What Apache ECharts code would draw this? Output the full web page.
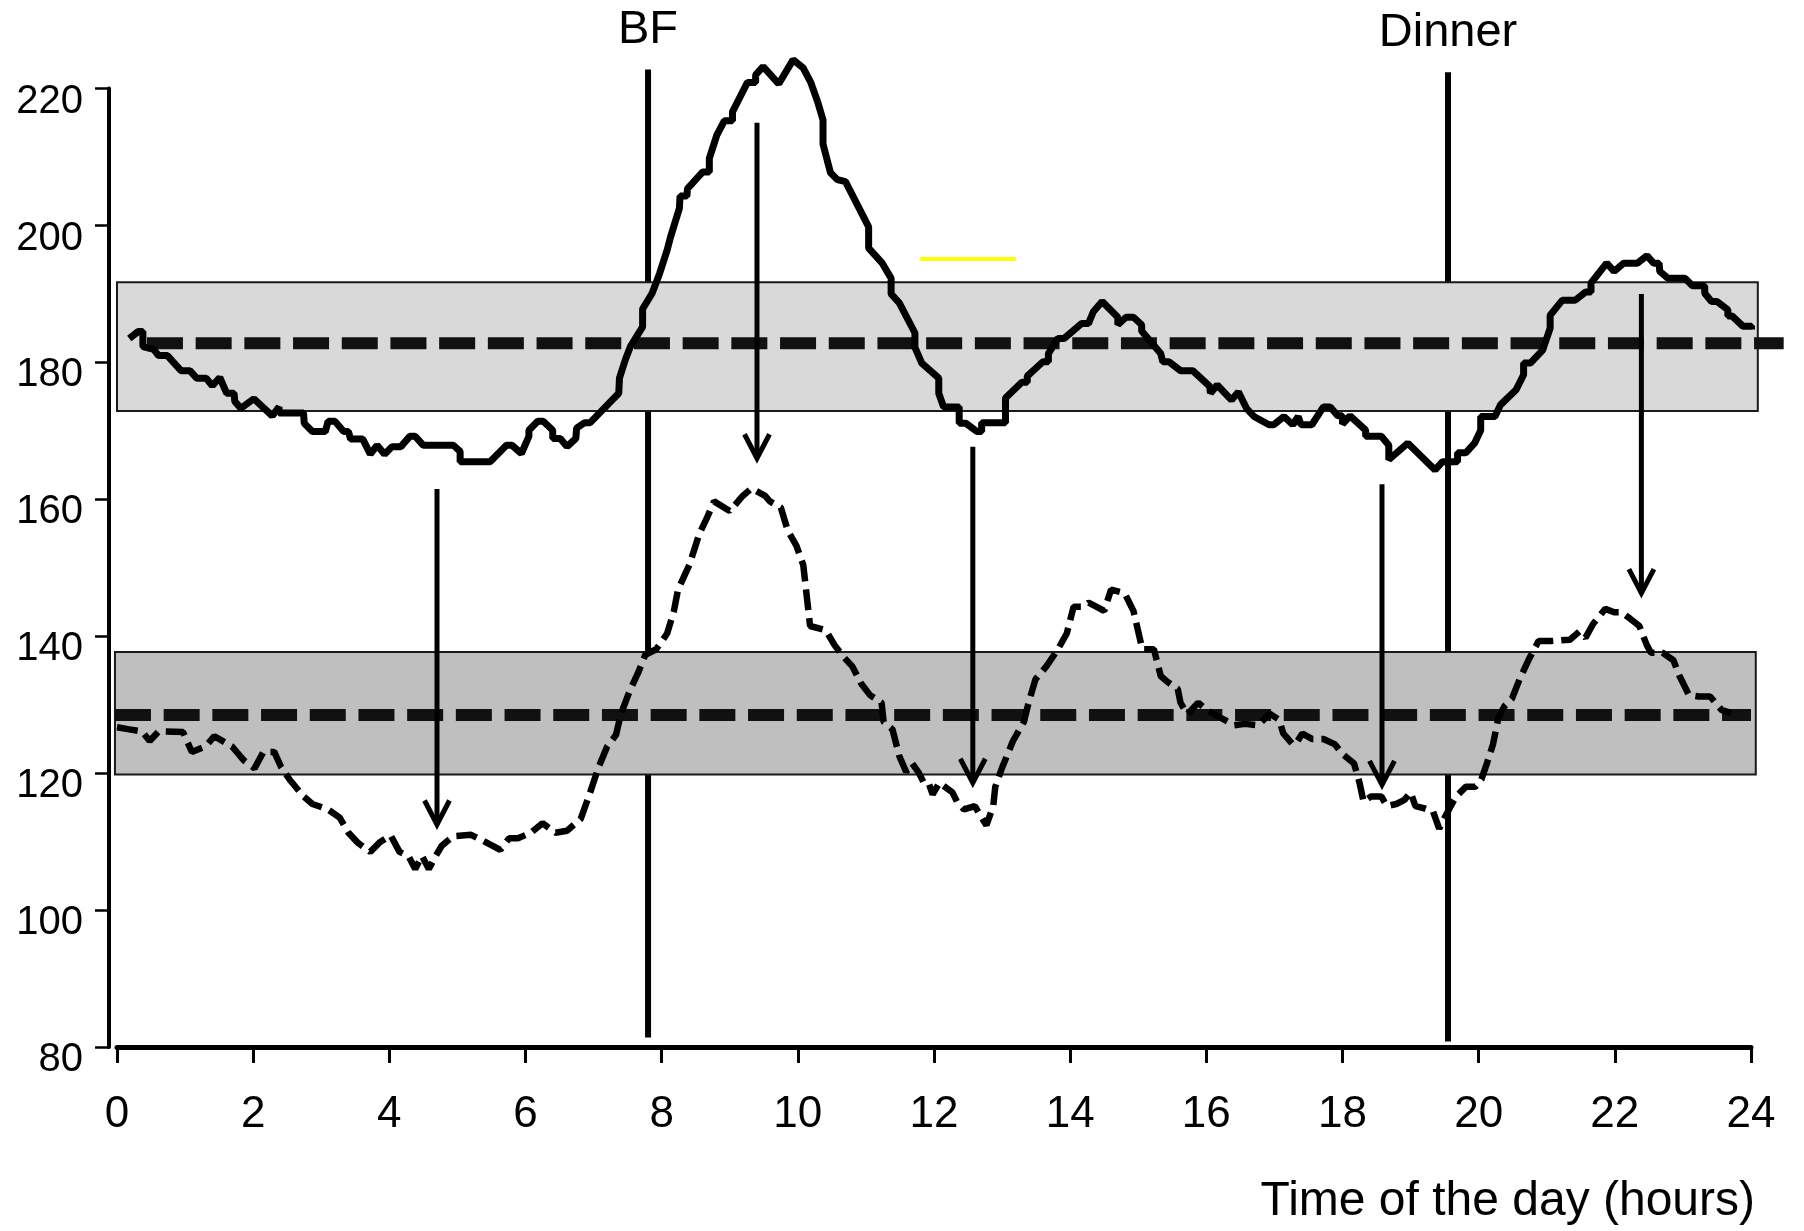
<!DOCTYPE html>
<html>
<head>
<meta charset="utf-8">
<title>Glucose over the day</title>
<script src="https://cdn.jsdelivr.net/npm/echarts@6/dist/echarts.min.js"></script>
<style>
    html, body { margin: 0; padding: 0; background: #fff; }
    #chart { width: 1804px; height: 1231px; }
</style>
</head>
<body>
<div id="chart"></div>
<script>
// axis ticks
var hourTicks = [0, 2, 4, 6, 8, 10, 12, 14, 16, 18, 20, 22, 24];
var glucoseTicks = [80, 100, 120, 140, 160, 180, 200, 220];

// upper profile (solid line)
var upperHours = [0.18, 0.31, 0.38, 0.38, 0.54, 0.61, 0.74, 0.94, 1.07, 1.17, 1.31, 1.40, 1.51, 1.61, 1.72, 1.73, 1.82, 2.01, 2.28, 2.38,
    2.38, 2.74, 2.75, 2.87, 3.06, 3.10, 3.20, 3.33, 3.40, 3.43, 3.61, 3.72, 3.82, 3.93, 4.04, 4.17, 4.30, 4.38, 4.50, 4.94,
    5.04, 5.04, 5.48, 5.72, 5.80, 5.94, 6.05, 6.05, 6.18, 6.26, 6.40, 6.40, 6.51, 6.61, 6.74, 6.75, 6.87, 6.95, 7.37, 7.38,
    7.47, 7.54, 7.72, 7.72, 7.86, 7.97, 8.08, 8.13, 8.26, 8.27, 8.37, 8.38, 8.60, 8.70, 8.70, 8.81, 8.92, 9.04, 9.04, 9.26,
    9.38, 9.38, 9.49, 9.72, 9.93, 10.08, 10.19, 10.29, 10.37, 10.37, 10.48, 10.58, 10.70, 11.04, 11.04, 11.24, 11.37, 11.37, 11.49, 11.72,
    11.72, 11.82, 12.07, 12.07, 12.14, 12.37, 12.37, 12.47, 12.63, 12.70, 12.70, 13.05, 13.05, 13.29, 13.37, 13.37, 13.60, 13.68, 13.68, 13.82,
    13.91, 14.17, 14.27, 14.34, 14.47, 14.70, 14.70, 14.82, 14.93, 15.05, 15.05, 15.33, 15.36, 15.45, 15.62, 15.80, 16.05, 16.06, 16.16, 16.37,
    16.47, 16.59, 16.70, 16.92, 16.99, 17.14, 17.27, 17.35, 17.39, 17.55, 17.72, 17.82, 17.93, 18.00, 18.00, 18.11, 18.34, 18.34, 18.57, 18.68,
    18.68, 18.96, 19.36, 19.47, 19.69, 19.69, 19.81, 19.94, 20.03, 20.03, 20.24, 20.32, 20.55, 20.66, 20.66, 20.76, 20.94, 21.05, 21.05, 21.23,
    21.42, 21.57, 21.65, 21.65, 21.88, 21.99, 22.13, 22.33, 22.47, 22.57, 22.65, 22.66, 22.78, 23.03, 23.14, 23.32, 23.32, 23.42, 23.50, 23.66,
    23.66, 23.72, 23.88, 24.01, 24.01];
var upperValues = [183.5, 184.5, 184.5, 182.3, 181.9, 181.0, 181.0, 178.8, 178.8, 177.7, 177.7, 176.6, 177.8, 175.5, 175.5, 174.3, 173.3, 174.7, 172.2, 173.5,
    172.6, 172.6, 171.1, 169.9, 169.9, 171.4, 171.4, 169.9, 169.9, 168.8, 168.8, 166.6, 167.9, 166.6, 167.7, 167.7, 169.2, 169.2, 167.9, 167.9,
    167.0, 165.5, 165.5, 167.9, 167.9, 166.7, 169.2, 170.1, 171.4, 171.4, 170.1, 168.9, 168.9, 167.7, 168.9, 170.4, 171.2, 171.2, 175.5, 177.7,
    180.5, 182.3, 185.2, 187.8, 190.1, 193.0, 196.4, 198.3, 202.5, 204.3, 204.3, 205.4, 207.8, 207.8, 209.8, 213.2, 215.3, 215.3, 216.6, 220.9,
    220.9, 222.0, 223.2, 220.7, 224.2, 223.0, 220.9, 218.1, 215.4, 211.9, 207.7, 206.7, 206.4, 199.8, 196.7, 194.5, 192.3, 190.0, 188.7, 184.3,
    182.2, 179.9, 177.7, 175.5, 173.5, 173.5, 171.1, 171.1, 169.9, 169.9, 171.2, 171.2, 174.8, 177.1, 177.1, 178.0, 180.1, 180.1, 181.3, 183.5,
    183.5, 185.7, 185.7, 187.4, 188.9, 186.6, 185.5, 186.6, 186.6, 185.5, 184.6, 181.3, 180.1, 180.1, 178.8, 178.8, 176.5, 175.5, 176.7, 174.5,
    175.7, 173.3, 172.1, 170.9, 170.9, 172.1, 170.9, 172.1, 170.9, 170.9, 173.5, 173.5, 172.2, 172.2, 171.0, 172.2, 170.1, 169.2, 169.2, 167.9,
    165.8, 168.2, 164.3, 165.5, 165.5, 166.8, 166.8, 168.2, 170.1, 172.1, 172.1, 173.8, 176.0, 178.2, 179.9, 179.9, 181.8, 185.0, 186.9, 189.1,
    189.1, 190.3, 190.3, 191.6, 194.5, 193.3, 194.5, 194.5, 195.6, 194.5, 194.5, 193.3, 192.3, 192.3, 191.2, 191.2, 190.1, 188.9, 188.9, 187.7,
    186.8, 186.8, 185.3, 185.3, 184.8];

// lower profile (dashed line)
var lowerHours = [0.00, 0.18, 0.37, 0.48, 0.61, 0.97, 1.10, 1.30, 1.43, 1.69, 1.86, 2.02, 2.15, 2.31, 2.41, 2.54, 2.74, 2.87, 3.10, 3.27,
    3.40, 3.53, 3.72, 3.86, 4.02, 4.15, 4.28, 4.38, 4.48, 4.58, 4.68, 4.77, 4.94, 5.20, 5.36, 5.63, 5.76, 5.89, 6.08, 6.25,
    6.44, 6.61, 6.81, 6.94, 7.07, 7.20, 7.33, 7.40, 7.53, 7.66, 7.76, 7.92, 8.08, 8.18, 8.24, 8.41, 8.55, 8.67, 8.77, 9.00,
    9.19, 9.32, 9.52, 9.59, 9.75, 9.85, 9.98, 10.08, 10.18, 10.41, 10.54, 10.67, 10.80, 10.93, 11.06, 11.23, 11.26, 11.39, 11.49, 11.59,
    11.68, 11.78, 11.85, 11.92, 11.98, 12.08, 12.27, 12.34, 12.44, 12.60, 12.70, 12.77, 12.87, 12.90, 13.00, 13.16, 13.32, 13.39, 13.49, 13.65,
    13.82, 13.95, 14.05, 14.18, 14.27, 14.39, 14.50, 14.60, 14.80, 14.93, 15.06, 15.23, 15.33, 15.42, 15.58, 15.62, 15.72, 15.88, 16.01, 16.21,
    16.41, 16.57, 16.76, 16.93, 17.07, 17.13, 17.27, 17.32, 17.41, 17.55, 17.72, 17.89, 18.00, 18.17, 18.25, 18.31, 18.42, 18.57, 18.65, 18.79,
    18.91, 19.00, 19.07, 19.19, 19.33, 19.42, 19.50, 19.59, 19.67, 19.81, 19.95, 20.04, 20.12, 20.21, 20.29, 20.38, 20.49, 20.60, 20.74, 20.88,
    21.06, 21.34, 21.48, 21.57, 21.68, 21.86, 21.99, 22.10, 22.22, 22.36, 22.47, 22.53, 22.70, 22.86, 22.95, 23.09, 23.23, 23.40, 23.57, 23.71];
var lowerValues = [126.7, 126.4, 126.1, 124.7, 126.1, 126.0, 123.1, 123.9, 125.4, 123.9, 121.9, 120.7, 123.1, 123.1, 120.9, 119.0, 116.6, 115.5, 114.7, 113.5,
    111.3, 109.9, 108.5, 109.9, 110.9, 108.5, 107.9, 106.0, 107.9, 106.0, 107.9, 109.4, 110.8, 111.0, 110.2, 108.8, 110.5, 110.5, 111.3, 112.7,
    111.3, 111.6, 113.3, 116.9, 120.8, 123.9, 125.6, 128.6, 132.0, 134.8, 137.3, 138.1, 140.4, 143.7, 146.8, 150.5, 154.9, 157.4, 159.7, 158.3,
    160.5, 161.6, 160.5, 159.7, 158.8, 155.5, 153.2, 150.4, 141.5, 140.9, 138.7, 137.0, 135.6, 133.1, 131.4, 130.3, 127.5, 126.4, 122.5, 120.2,
    121.4, 120.0, 118.6, 118.6, 116.9, 118.6, 117.2, 115.8, 114.7, 115.2, 113.5, 112.4, 115.2, 118.0, 120.8, 124.7, 127.5, 130.3, 133.7, 135.6,
    138.1, 140.4, 144.3, 144.3, 144.9, 144.3, 143.7, 146.8, 146.3, 143.7, 138.1, 138.1, 134.2, 133.4, 132.3, 130.3, 128.6, 130.3, 129.2, 128.1,
    127.0, 127.2, 127.0, 128.7, 127.8, 125.8, 124.2, 124.4, 125.8, 125.0, 125.0, 124.2, 122.8, 121.4, 118.6, 115.8, 116.6, 116.6, 115.2, 115.5,
    116.1, 117.2, 115.2, 114.9, 114.4, 111.9, 113.5, 115.2, 116.6, 118.0, 118.0, 119.1, 121.4, 124.2, 128.1, 129.8, 130.9, 133.7, 136.7, 139.3,
    139.3, 139.5, 140.7, 139.8, 141.8, 144.0, 143.5, 143.5, 142.6, 141.5, 138.7, 137.6, 137.6, 136.5, 134.2, 131.4, 131.2, 131.2, 129.2, 128.8];

// reference bands (upper, lower) and their mean lines
var bandLow = [172.9, 119.8];
var bandHigh = [191.7, 137.7];
var bandStart = [0, -0.03];
var bandEnd = [24.1, 24.07];
var meanValue = [182.8, 128.5];
var meanStart = [0.44, -0.03];
var meanEnd = [24.48, 24.0];

// meals
var mealHours = [7.8, 19.55];
var mealNames = ['BF', 'Dinner'];
var mealTop = [222.8, 222.4];
var mealBottom = [81.4, 80.8];

// arrows from the upper curve down to the lower one
var arrowHours = [4.70, 9.40, 12.57, 18.58, 22.39];
var arrowFrom = [161.5, 215.0, 167.7, 162.2, 190.0];
var arrowTo = [112.5, 166.0, 118.6, 118.3, 146.3];

// short yellow stroke
var yellowHours = [11.8, 13.2];
var yellowValues = [195.1, 195.1];

function zip(a, b) {
    return a.map(function (x, i) { return [x, b[i]]; });
}

var FONT = '"Liberation Sans", Arial, sans-serif';

var mychart = echarts.init(document.getElementById('chart'));

mychart.setOption({
    animation: false,
    backgroundColor: '#fff',
    grid: {
        left: 117,
        right: 53,
        top: 88.6,
        bottom: 184,
        outerBoundsMode: 'none'
    },
    xAxis: {
        type: 'value',
        min: hourTicks[0],
        max: hourTicks[hourTicks.length - 1],
        interval: hourTicks[1] - hourTicks[0],
        axisLine: { show: true, onZero: false, lineStyle: { color: '#000', width: 5 } },
        axisTick: { show: true, length: 16, lineStyle: { color: '#000', width: 3 } },
        axisLabel: { color: '#000', fontSize: 44, fontFamily: FONT, margin: 46 },
        splitLine: { show: false }
    },
    yAxis: {
        type: 'value',
        min: glucoseTicks[0],
        max: glucoseTicks[glucoseTicks.length - 1],
        interval: glucoseTicks[1] - glucoseTicks[0],
        offset: 8,
        axisLine: { show: true, onZero: false, lineStyle: { color: '#000', width: 4 } },
        axisTick: { show: true, length: 14, lineStyle: { color: '#000', width: 2.5 } },
        axisLabel: {
            margin: 26,
            // labels sit a little below their ticks in the original
            formatter: '{v|{value}}',
            rich: {
                v: { color: '#000', fontSize: 40, fontFamily: FONT, padding: [26, 0, 0, 0] }
            }
        },
        splitLine: { show: false }
    },
    graphic: [
        {
            type: 'text',
            x: 1755,
            y: 1202,
            style: {
                text: 'Time of the day (hours)',
                font: '48px ' + FONT,
                fill: '#000',
                align: 'right',
                verticalAlign: 'middle'
            }
        }
    ],
    series: [
        // meal lines + labels (under the bands)
        {
            type: 'custom',
            z: 1,
            clip: false,
            data: mealHours.map(function (h, i) { return [h, mealBottom[i], mealTop[i]]; }),
            renderItem: function (params, api) {
                var bottom = api.coord([api.value(0), api.value(1)]);
                var top = api.coord([api.value(0), api.value(2)]);
                return {
                    type: 'group',
                    children: [
                        {
                            type: 'line',
                            shape: { x1: top[0], y1: top[1], x2: bottom[0], y2: bottom[1] },
                            style: { stroke: '#000', lineWidth: 6 }
                        },
                        {
                            type: 'text',
                            style: {
                                text: mealNames[params.dataIndex],
                                x: top[0],
                                y: top[1] - 39,
                                font: '47px ' + FONT,
                                fill: '#000',
                                align: 'center',
                                verticalAlign: 'middle'
                            }
                        }
                    ]
                };
            }
        },
        // grey bands
        {
            type: 'custom',
            z: 2,
            clip: false,
            data: bandLow.map(function (lo, i) { return [bandStart[i], lo, bandEnd[i], bandHigh[i]]; }),
            renderItem: function (params, api) {
                var p0 = api.coord([api.value(0), api.value(3)]);
                var p1 = api.coord([api.value(2), api.value(1)]);
                return {
                    type: 'rect',
                    shape: { x: p0[0], y: p0[1], width: p1[0] - p0[0], height: p1[1] - p0[1] },
                    style: {
                        fill: params.dataIndex === 0 ? '#d9d9d9' : '#bfbfbf',
                        stroke: '#1a1a1a',
                        lineWidth: 2
                    }
                };
            }
        },
        // mean lines
        {
            type: 'custom',
            z: 3,
            clip: false,
            data: meanValue.map(function (v, i) { return [meanStart[i], v, meanEnd[i]]; }),
            renderItem: function (params, api) {
                var a = api.coord([api.value(0), api.value(1)]);
                var b = api.coord([api.value(2), api.value(1)]);
                return {
                    type: 'line',
                    shape: { x1: a[0], y1: a[1], x2: b[0], y2: b[1] },
                    style: { stroke: '#111', lineWidth: 12, lineDash: [36, 12.7] }
                };
            }
        },
        {
            name: 'upper',
            type: 'line',
            z: 4,
            clip: false,
            data: zip(upperHours, upperValues),
            symbol: 'none',
            lineStyle: { color: '#000', width: 7 }
        },
        {
            name: 'lower',
            type: 'line',
            z: 4,
            clip: false,
            data: zip(lowerHours, lowerValues),
            symbol: 'none',
            lineStyle: { color: '#000', width: 6.5, type: [21, 8] }
        },
        {
            name: 'yellow',
            type: 'line',
            z: 4,
            data: zip(yellowHours, yellowValues),
            symbol: 'none',
            lineStyle: { color: '#ffff00', width: 4 }
        },
        // arrows
        {
            type: 'custom',
            z: 5,
            clip: false,
            data: arrowHours.map(function (h, i) { return [h, arrowFrom[i], arrowTo[i]]; }),
            renderItem: function (params, api) {
                var start = api.coord([api.value(0), api.value(1)]);
                var tip = api.coord([api.value(0), api.value(2)]);
                return {
                    type: 'group',
                    children: [
                        {
                            type: 'line',
                            shape: { x1: start[0], y1: start[1], x2: tip[0], y2: tip[1] },
                            style: { stroke: '#000', lineWidth: 5 }
                        },
                        {
                            type: 'polyline',
                            shape: { points: [[tip[0] - 12.5, tip[1] - 24], [tip[0], tip[1]], [tip[0] + 12.5, tip[1] - 24]] },
                            style: { stroke: '#000', lineWidth: 5, fill: null }
                        }
                    ]
                };
            }
        }
    ]
});
</script>
</body>
</html>
